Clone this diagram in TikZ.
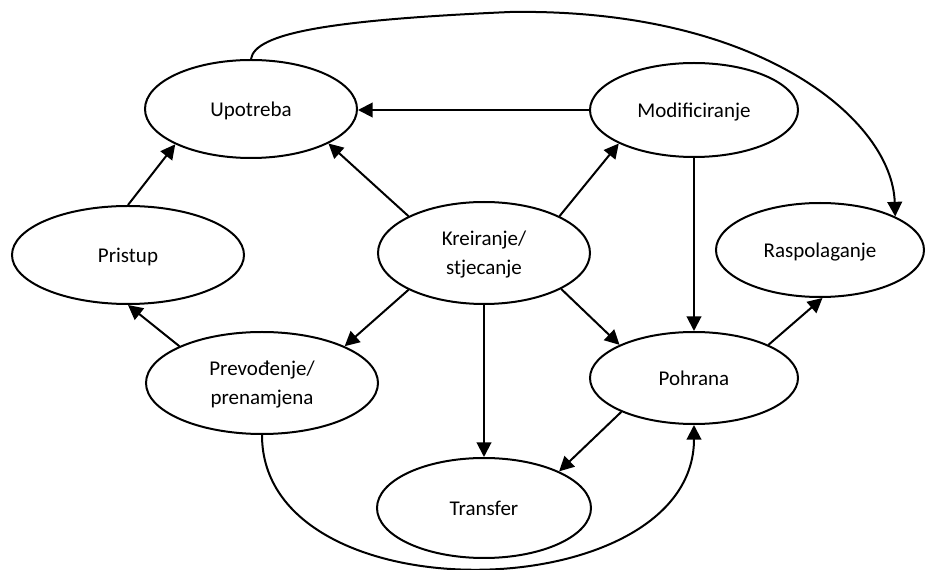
\documentclass[tikz,border=0pt]{standalone}
\usepackage{fontspec}
\setmainfont{Carlito}
\usetikzlibrary{shapes.geometric,arrows.meta}
\begin{document}
\begin{tikzpicture}[x=0.75pt,y=-0.75pt,
  state/.style={ellipse,draw,line width=1.5pt,inner sep=0pt,align=center,
    text depth=0pt,font=\fontsize{15.75pt}{21.75pt}\selectfont},
  esize/.style 2 args={minimum width=#1*0.75pt,minimum height=#2*0.75pt},
  link/.style={line width=1.5pt,-{Triangle[length=11pt,width=11pt]}}]
\useasboundingbox (0,0) rectangle (926,570);

% life-cycle stages
\node[state,esize={212}{98}]  (upo) at (251,109) {Upotreba};
\node[state,esize={208}{94}]  (mod) at (694,110) {Modificiranje};
\node[state,esize={232}{98}]  (pri) at (128,255) {Pristup};
\node[state,esize={212}{102}] (kre) at (484,253) {Kreiranje/\\stjecanje};
\node[state,esize={208}{94}]  (ras) at (820,250) {Raspolaganje};
\node[state,esize={232}{102}] (pre) at (262,383) {Prevođenje/\\prenamjena};
\node[state,esize={208}{92}]  (poh) at (694,378) {Pohrana};
\node[state,esize={214}{100}] (tra) at (484,508) {Transfer};

% straight transitions
\draw[link] (mod.west) -- (upo.east |- mod.west);
\draw[link] (kre.154) -- (upo.-24);
\draw[link] (pri.north) -- (upo.-155);
\draw[link] (kre.26) -- (mod.-156);
\draw[link] (mod.south) -- (poh.north);
\draw[link] (kre.-154) -- (pre.24);
\draw[link] (pre.156) -- (pri.south);
\draw[link] (kre.south) -- (tra.north);
\draw[link] (kre.-25) -- (poh.156);
\draw[link] (poh.24) -- (ras.-87);
\draw[link] (poh.-155) -- (tra.26);

% curved transitions
\draw[link] (pre.south) .. controls (262,619) and (694,609) .. (poh.south);
\draw[link] (upo.north) .. controls (255,33) and (330,20) .. (510,12)
  .. controls (760,8) and (892,120) .. (ras.24);
\end{tikzpicture}
\end{document}
